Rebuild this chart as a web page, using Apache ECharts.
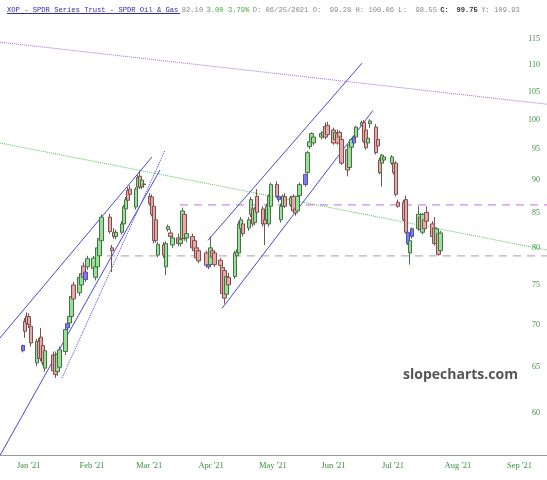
<!DOCTYPE html>
<html><head><meta charset="utf-8">
<script src="https://cdn.jsdelivr.net/npm/echarts@6/dist/echarts.min.js"></script>
<style>html,body{margin:0;padding:0;background:#fff}#c{width:547px;height:480px}</style>
</head><body><div id="c"></div>
<script>
// ---- calendar ----
const holidays = ['2021-01-18','2021-02-15','2021-04-02','2021-05-31','2021-07-05'];
function ymd(d){const m=d.getMonth()+1,dd=d.getDate();return d.getFullYear()+'-'+(m<10?'0':'')+m+'-'+(dd<10?'0':'')+dd;}
function tradingDays(start,end,hol){
  const out=[];const s=start.split('-').map(Number),e=end.split('-').map(Number);
  let d=new Date(s[0],s[1]-1,s[2]);const last=new Date(e[0],e[1]-1,e[2]);
  while(d<=last){const w=d.getDay();const k=ymd(d);if(w!==0&&w!==6&&hol.indexOf(k)<0)out.push(k);d=new Date(d.getFullYear(),d.getMonth(),d.getDate()+1);}
  return out;
}
const dates = tradingDays('2021-01-04','2021-07-30',holidays);

// ---- OHLC ----
const opens = [66.9,70.4,71.0,71.0,69.8,65.5,68.0,68.5,67.5,64.9,66.4,66.4,64.5,65.0,66.8,69.6,70.2,71.0,75.0,
74.0,75.0,77.5,75.7,77.4,77.2,76.0,77.4,78.9,81.0,84.4,80.0,82.2,81.6,82.2,83.4,85.6,88.4,88.6,
85.9,88.9,90.6,89.0,89.4,87.5,87.4,86.0,84.0,79.0,80.4,77.4,82.6,82.1,80.4,81.4,80.6,81.3,84.8,81.4,81.6,81.0,80.0,
79.6,79.3,77.7,77.7,79.6,79.3,78.3,77.3,76.9,73.8,76.0,76.1,78.9,79.3,82.7,83.4,82.8,84.8,85.6,83.6,87.5,
85.6,84.0,84.0,83.4,86.0,89.3,87.5,84.0,86.0,87.5,86.2,87.5,85.6,85.3,87.6,89.3,91.2,95.4,96.6,96.0,
97.0,97.2,98.8,99.0,98.2,96.6,97.6,97.8,96.6,94.9,92.0,95.3,96.0,97.0,99.0,99.5,98.2,96.0,99.28,98.7,96.6,93.2,
92.7,93.2,92.7,92.7,92.7,86.6,86.6,87.0,82.2,79.3,81.6,82.7,84.4,82.2,84.0,85.1,83.4,82.8,80.6,82.0,79.6];
const highs = [67.6,70.8,71.5,71.4,70.2,68.3,68.4,69.6,67.9,67.2,66.8,66.8,66.9,67.4,69.8,70.5,71.4,73.9,75.4,
76.3,76.9,78.0,77.0,78.9,78.9,77.8,80.3,81.6,84.8,84.9,80.4,82.8,82.6,83.8,86.2,87.4,88.9,89.2,
88.9,90.8,91.5,90.4,89.8,88.0,87.8,86.4,84.4,80.8,80.8,80.9,83.3,82.6,81.7,82.0,81.5,85.8,85.3,82.4,82.0,81.4,80.4,
80.0,79.6,78.0,81.6,80.0,79.6,78.6,77.6,77.3,76.4,76.6,79.6,79.8,83.8,84.4,83.8,84.4,87.4,86.0,85.9,88.6,
86.0,84.6,86.4,87.8,89.6,89.8,87.8,86.4,87.8,88.0,87.6,87.8,86.2,87.9,89.6,91.0,94.7,96.6,97.8,97.4,
98.0,98.2,99.5,99.6,98.6,98.0,98.3,98.1,97.0,95.4,96.0,96.8,97.2,98.9,99.8,99.9,98.6,97.0,100.06,99.2,97.0,93.6,
94.2,93.9,94.0,93.1,93.0,87.0,87.0,87.6,82.6,81.2,82.9,86.0,85.0,85.0,84.4,86.0,83.8,84.4,82.9,82.4,82.4];
const lows = [66.7,68.4,69.9,69.6,67.4,65.1,65.7,65.7,65.2,64.5,64.3,63.8,64.0,64.6,66.4,69.2,69.8,70.6,72.8,
73.6,74.6,75.8,75.4,77.0,76.9,75.6,77.0,78.5,80.7,82.0,76.7,81.3,81.2,81.9,83.0,85.2,86.6,87.5,
85.5,88.5,88.6,88.6,88.8,86.1,84.5,80.6,80.7,78.7,78.6,76.3,82.3,81.3,80.0,80.2,80.2,81.0,81.0,80.8,79.7,79.3,78.3,
77.9,77.3,77.1,77.4,78.4,77.4,77.3,73.6,72.6,73.4,74.7,75.8,78.5,79.0,82.3,81.6,82.4,84.4,83.0,83.2,84.8,
83.0,80.4,83.6,83.0,85.6,87.2,86.6,83.6,85.6,85.7,85.9,85.0,84.6,85.0,87.2,89.0,90.8,95.0,96.4,95.6,
96.6,96.8,96.6,97.0,95.7,96.2,95.7,96.6,92.4,90.6,91.6,95.0,95.6,96.6,98.8,96.0,94.9,95.6,98.55,94.1,95.2,90.9,
89.0,92.9,92.4,90.9,87.5,85.8,83.8,82.0,80.4,77.7,81.3,82.4,82.3,81.9,82.4,83.6,81.2,80.3,80.2,78.9,79.3];
const closes = [67.5,69.2,70.2,70.0,67.8,68.0,66.0,66.0,65.5,66.9,64.6,64.2,66.5,67.0,69.4,70.1,71.0,73.5,73.2,
76.0,76.5,76.0,76.7,78.5,78.6,77.4,80.0,81.3,84.4,82.3,79.6,81.6,82.2,83.4,85.9,87.0,86.9,87.8,
88.6,90.4,88.9,90.0,89.3,86.4,84.8,81.0,81.0,80.5,79.0,80.6,83.0,81.6,81.4,80.6,81.2,85.3,81.3,82.0,80.0,79.6,78.6,
78.2,77.6,77.4,80.0,78.7,77.7,77.6,73.9,73.3,76.1,75.0,79.3,79.4,83.4,84.0,82.0,84.0,87.0,83.4,85.6,85.1,
83.4,83.4,86.0,87.5,89.3,87.5,87.0,86.0,87.5,86.0,87.3,85.3,85.0,87.5,89.3,90.9,94.4,96.2,97.6,97.0,
97.6,97.8,97.0,97.4,96.0,97.8,96.0,97.0,92.7,91.6,95.7,96.6,97.0,98.7,99.5,96.3,95.2,96.8,99.75,94.4,95.5,91.2,
94.0,93.7,93.7,91.2,87.8,86.0,84.0,82.2,80.6,81.0,82.7,84.8,82.6,84.8,82.7,83.8,81.6,80.6,82.7,79.1,82.1];
const purpleDays = ['2021-01-04','2021-01-26','2021-02-04','2021-04-06','2021-05-11','2021-05-24','2021-06-17','2021-07-14','2021-07-16'];

// ---- axis ticks ----
const yTicks = [60,65,70,75,80,85,90,95,100,105,110,115];
const monthTicks = ['2021-01-01','2021-02-01','2021-03-01','2021-04-01','2021-05-01','2021-06-01','2021-07-01','2021-08-01','2021-09-01'];
const monthLabels = ["Jan '21","Feb '21","Mar '21","Apr '21","May '21","Jun '21","Jul '21","Aug '21","Sep '21"];
const xStart = '2020-12-23 13:40', xEnd = '2021-09-20 20:00';
const yMin = 55.8, yMax = 118.9;

// ---- drawn trend lines (date, price) ----
const purpleTrend = [['2020-12-23 13:40',114.4],['2021-09-20 20:00',102.7]];
const greenTrend = [['2020-12-23 13:40',96.0],['2021-09-20 20:00',79.7]];
const ch1Upper = [['2020-12-23 13:40',68.4],['2021-03-08 23:00',93.7]];
const ch1Lower = [['2020-12-18 14:40',54.06],['2021-03-12 22:00',91.6]];
const ch1Dotted = [['2021-01-23 07:40',63.8],['2021-03-15 09:30',94.8]];
const ch2Upper = [['2021-04-05 17:20',81.06],['2021-06-21 02:10',110.3]];
const ch2Lower = [['2021-04-12 15:50',72.0],['2021-06-26 13:00',101.6]];
const resistLevel = [['2021-03-22 19:00',86.2],['2021-09-25',86.2]];
const supportLevel = [['2021-02-14 14:00',78.9],['2021-09-25',78.9]];

function ts(s){const p=s.split(/[- :]/).map(Number);return new Date(p[0],p[1]-1,p[2],p[3]||0,p[4]||0).getTime();}
const candleData = dates.map((d,i)=>{
  const item={value:[ts(d),opens[i],closes[i],lows[i],highs[i]]};
  if(purpleDays.indexOf(d)>=0) item.itemStyle={color:'#7c7cea',color0:'#7c7cea',borderColor:'#5050b0',borderColor0:'#5050b0'};
  return item;
});

function lineSeries(pts,color,type,width){
  return {type:'line',data:pts.map(p=>[ts(p[0]),p[1]]),symbol:'none',silent:true,animation:false,
    lineStyle:{color:color,width:width||1,type:type},z:3};
}
const chart = echarts.init(document.getElementById('c'),null,{renderer:'canvas'});
chart.setOption({
  animation:false,
  backgroundColor:'#fff',
  grid:{left:0,right:0,top:20,bottom:25},
  xAxis:{type:'value',min:ts(xStart),max:ts(xEnd),scale:true,
    axisLine:{show:true,lineStyle:{color:'#999',width:1}},axisTick:{show:false},splitLine:{show:false},
    axisLabel:{customValues:monthTicks.map(ts),align:'left',margin:6,color:'#3f8f3f',fontFamily:'Liberation Serif',fontSize:8.5,
      formatter:function(v){const d=new Date(v);return monthLabels[d.getMonth()];},showMinLabel:true,showMaxLabel:true,hideOverlap:false}},
  yAxis:{type:'log',logBase:10,min:yMin,max:yMax,position:'right',
    axisLine:{show:false},axisTick:{show:false},splitLine:{show:false},
    axisLabel:{inside:true,customValues:yTicks,margin:7,color:'#3f8f3f',fontFamily:'Liberation Serif',fontSize:8,
      formatter:function(v){return String(Math.round(v));}}},
  series:[
    lineSeries(purpleTrend,'#b061e3','dotted'),
    lineSeries(greenTrend,'#55c455','dotted'),
    lineSeries(resistLevel,'#cc8ae8',[8,6],1.3),
    lineSeries(supportLevel,'#b4b4b4',[8,6],1.3),
    lineSeries(ch1Upper,'#4848d8','solid'),
    lineSeries(ch1Lower,'#4848d8','solid'),
    lineSeries(ch1Dotted,'#4848d8','dotted'),
    lineSeries(ch2Upper,'#4848d8','solid'),
    lineSeries(ch2Lower,'#4848d8','solid'),
    {type:'candlestick',data:candleData,barWidth:4,z:4,silent:true,animation:false,
      itemStyle:{color:'#92e392',color0:'#eba8a8',borderColor:'#4a6e4a',borderColor0:'#7d5050',borderWidth:1}}
  ],
  graphic:[
    {type:'text',left:7,top:4,silent:true,style:{
      text:'{t|XOP - SPDR Series Trust - SPDR Oil & Gas} {g|82.10} {gr|3.00 3.79%} {g|D: 06/25/2021 O:  99.28 H: 100.06 L:  98.55} {b|C:} {g| }{b|99.75} {g|Y: 109.93}',
      rich:{
        t:{fontFamily:'Liberation Mono',fontSize:7.15,fill:'#2f2fa0'},
        g:{fontFamily:'Liberation Mono',fontSize:7.15,fill:'#888'},
        gr:{fontFamily:'Liberation Mono',fontSize:7.15,fill:'#3fae3f'},
        b:{fontFamily:'Liberation Mono',fontSize:7.15,fontWeight:'bold',fill:'#333'}
      }}},
    {type:'line',silent:true,shape:{x1:7,y1:13.5,x2:180,y2:13.5},style:{stroke:'#2f2fa0',lineWidth:1}},
    {type:'text',left:403,top:368,silent:true,style:{text:'slopecharts.com',fontFamily:'Open Sans',fontWeight:'bold',fontSize:14,fill:'#555'}}
  ]
});
</script></body></html>
